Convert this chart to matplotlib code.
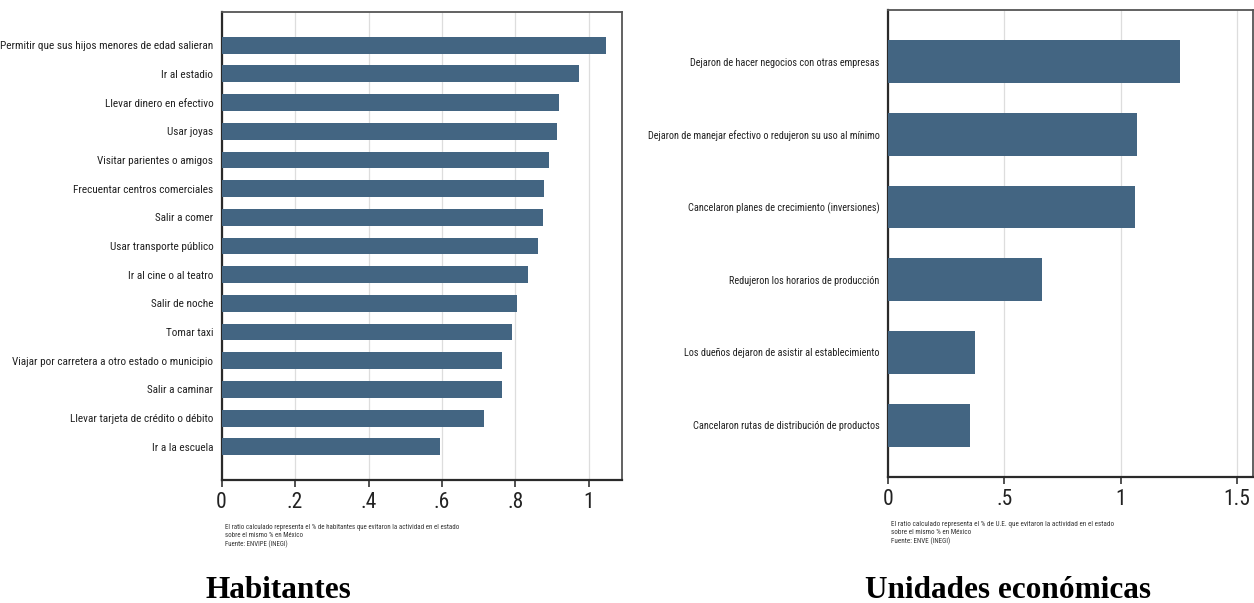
import matplotlib
matplotlib.use("Agg")
import matplotlib.pyplot as plt

NARROW = ['Roboto Condensed', 'Liberation Sans', 'DejaVu Sans']

hab_labels = [
    "Permitir que sus hijos menores de edad salieran",
    "Ir al estadio",
    "Llevar dinero en efectivo",
    "Usar joyas",
    "Visitar parientes o amigos",
    "Frecuentar centros comerciales",
    "Salir a comer",
    "Usar transporte público",
    "Ir al cine o al teatro",
    "Salir de noche",
    "Tomar taxi",
    "Viajar por carretera a otro estado o municipio",
    "Salir a caminar",
    "Llevar tarjeta de crédito o débito",
    "Ir a la escuela",
]
hab_values = [1.047, 0.974, 0.918, 0.913, 0.892, 0.877, 0.874, 0.861, 0.835,
              0.804, 0.791, 0.763, 0.762, 0.714, 0.594]
hab_ticks = [0, 0.2, 0.4, 0.6, 0.8, 1.0]
hab_ticklabels = ["0", ".2", ".4", ".6", ".8", "1"]

ue_labels = [
    "Dejaron de hacer negocios con otras empresas",
    "Dejaron de manejar efectivo o redujeron su uso al mínimo",
    "Cancelaron planes de crecimiento (inversiones)",
    "Redujeron los horarios de producción",
    "Los dueños dejaron de asistir al establecimiento",
    "Cancelaron rutas de distribución de productos",
]
ue_values = [1.253, 1.068, 1.061, 0.664, 0.375, 0.351]
ue_ticks = [0, 0.5, 1.0, 1.5]
ue_ticklabels = ["0", ".5", "1", "1.5"]

note_hab = ("El ratio calculado representa el % de habitantes que evitaron la actividad en el estado\n"
            "sobre el mismo % en México\nFuente: ENVIPE (INEGI)")
note_ue = ("El ratio calculado representa el % de U.E. que evitaron la actividad en el estado\n"
           "sobre el mismo % en México\nFuente: ENVE (INEGI)")

BAR = "#436582"
W, H = 1254, 603
fig = plt.figure(figsize=(W / 100, H / 100), dpi=100)


def panel(rect, labels, values, ticks, ticklabels, xmax, pad, lblsize, title, note, title_x,
          notesize, notegap):
    x0, top, x1, bot = rect
    ax = fig.add_axes([x0 / W, 1 - bot / H, (x1 - x0) / W, (bot - top) / H])
    n = len(labels)
    pos = list(range(n))
    ax.barh(pos, values, height=0.59, color=BAR, zorder=3)
    ax.set_xlim(0, xmax)
    ax.set_ylim(n - 1 + pad, -pad)
    ax.set_yticks(pos)
    ax.set_yticklabels(labels, fontsize=lblsize, family=NARROW, color="#222222")
    ax.tick_params(axis='y', length=0, pad=6)
    ax.set_xticks(ticks)
    ax.set_xticklabels(ticklabels, fontsize=15.5, family=NARROW, color="#222222")
    ax.tick_params(axis='x', length=5, width=1.2, color="#333333", pad=4)
    ax.grid(axis='x', color="#dddddd", linewidth=0.9, zorder=0)
    for s in ['left', 'bottom']:
        ax.spines[s].set_color("#2a2a2a")
        ax.spines[s].set_linewidth(1.6)
    for s in ['top', 'right']:
        ax.spines[s].set_color("#555555")
        ax.spines[s].set_linewidth(1.3)
    fig.text((x0 + 3) / W, 1 - (bot + notegap) / H, note, fontsize=notesize, family=NARROW,
             va='top', ha='left', color="#333333", linespacing=1.25)
    fig.text(title_x / W, 1 - 590 / H, title, fontsize=22.5, family='Liberation Serif',
             fontweight='bold', ha='center', va='center')
    return ax


panel((221.6, 12, 622.4, 480), hab_labels, hab_values, hab_ticks, hab_ticklabels,
      1.091, 1.16, 8.1, "Habitantes", note_hab, 278, 4.95, 44)
panel((887.8, 10, 1252.8, 476.7), ue_labels, ue_values, ue_ticks, ue_ticklabels,
      1.567, 0.71, 7.35, "Unidades económicas", note_ue, 1008, 5.1, 44)

fig.savefig("out.png", dpi=100, facecolor="white")
